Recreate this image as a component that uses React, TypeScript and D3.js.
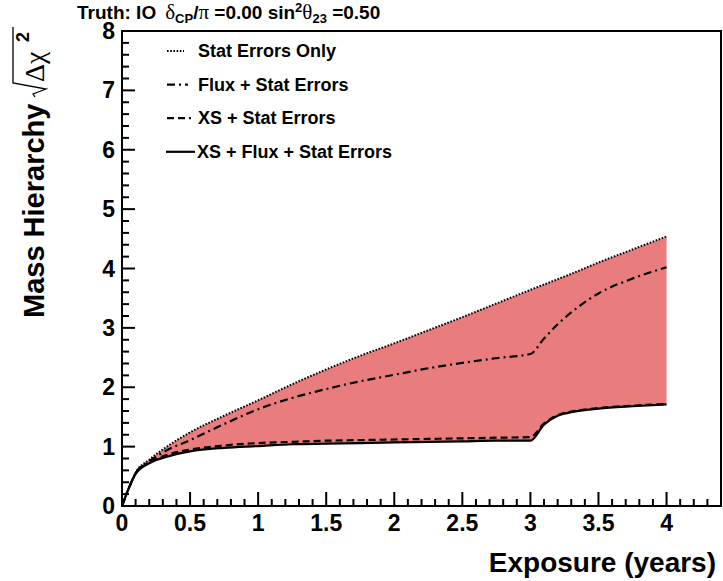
import React from "react";
import * as d3 from "d3";

const xs = [0, 0.05, 0.1, 0.2, 0.33, 0.5, 0.75, 1, 1.25, 1.5, 1.75, 2, 2.25, 2.5, 2.75, 3, 3.1, 3.2, 3.3, 3.5, 3.75, 4];
const statOnly = [0, 0.3, 0.56, 0.78, 1.0, 1.24, 1.52, 1.78, 2.05, 2.3, 2.53, 2.74, 2.96, 3.18, 3.41, 3.64, 3.73, 3.82, 3.91, 4.1, 4.32, 4.54];
const fluxStat = [0, 0.3, 0.55, 0.75, 0.94, 1.11, 1.38, 1.63, 1.82, 1.97, 2.1, 2.21, 2.32, 2.41, 2.49, 2.56, 2.82, 3.06, 3.26, 3.58, 3.83, 4.02];
const xsStat = [0, 0.3, 0.55, 0.73, 0.86, 0.95, 1.02, 1.06, 1.08, 1.1, 1.11, 1.12, 1.13, 1.14, 1.15, 1.16, 1.39, 1.53, 1.59, 1.65, 1.69, 1.72];
const allErr = [0, 0.3, 0.54, 0.72, 0.83, 0.92, 0.98, 1.01, 1.04, 1.05, 1.06, 1.07, 1.08, 1.09, 1.1, 1.1, 1.37, 1.52, 1.58, 1.64, 1.68, 1.71];

const legendLabels = ["Stat Errors Only", "Flux + Stat Errors", "XS + Stat Errors", "XS + Flux + Stat Errors"];
const xTickLabels = ["0", "0.5", "1", "1.5", "2", "2.5", "3", "3.5", "4"];
const yTickLabels = ["0", "1", "2", "3", "4", "5", "6", "7", "8"];

const W = 723, H = 581;
const L = 122, R = 721, T = 31, B = 506;
const FONT = "'Liberation Sans', Arial, Helvetica, sans-serif";
const GREEK = "'Liberation Serif', 'DejaVu Serif', serif";

export default function App() {
  const x = d3.scaleLinear().domain([0, 4.4]).range([L, R]);
  const y = d3.scaleLinear().domain([0, 8]).range([B, T]);

  const pts = (arr: number[]) => xs.map((v, i) => [v, arr[i]] as [number, number]);
  const line = d3.line<[number, number]>().x(d => x(d[0])).y(d => y(d[1])).curve(d3.curveMonotoneX);
  const area = d3.area<number>()
    .x((_, i) => x(xs[i]))
    .y0((_, i) => y(allErr[i]))
    .y1((_, i) => y(statOnly[i]))
    .curve(d3.curveMonotoneX);

  const styles = [
    { arr: statOnly, dash: "1.6,1.6", w: 2 },
    { arr: fluxStat, dash: "8,4,2,4", w: 2.2 },
    { arr: xsStat, dash: "7,4", w: 2.2 },
    { arr: allErr, dash: "", w: 2.2 },
  ];

  const yMinor = d3.range(0, 8.0001, 0.2);
  const xMinor = d3.range(0, 4.4001, 0.1);

  return (
    <svg width={W} height={H} style={{ position: "absolute", left: 0, top: 0, background: "#fff" }}>
      <path d={area(xs.map((_, i) => i)) || ""} fill="#e97d7e" stroke="none" />
      {styles.map((s, i) => (
        <path key={i} d={line(pts(s.arr)) || ""} fill="none" stroke="#000" strokeWidth={s.w}
          strokeDasharray={s.dash || undefined} />
      ))}
      {/* frame */}
      <rect x={L} y={T} width={R - L} height={B - T} fill="none" stroke="#000" strokeWidth={2} />
      {/* y ticks */}
      {yMinor.map((v, i) => {
        const major = Math.abs(v - Math.round(v)) < 1e-6;
        return <line key={"ym" + i} x1={L} x2={L + (major ? 13 : 7)} y1={y(v)} y2={y(v)} stroke="#000" strokeWidth={2} />;
      })}
      {/* x ticks */}
      {xMinor.map((v, i) => {
        const major = Math.abs(v * 2 - Math.round(v * 2)) < 1e-6;
        return <line key={"xm" + i} x1={x(v)} x2={x(v)} y1={B} y2={B - (major ? 14 : 7)} stroke="#000" strokeWidth={2} />;
      })}
      {yTickLabels.map((t, i) => (
        <text key={"yl" + i} x={L - 7} y={y(+t) + 8} textAnchor="end" fontFamily={FONT} fontWeight="bold" fontSize={23}>{t}</text>
      ))}
      {xTickLabels.map((t, i) => (
        <text key={"xl" + i} x={x(+t)} y={531} textAnchor="middle" fontFamily={FONT} fontWeight="bold" fontSize={23}>{t}</text>
      ))}
      {/* x title */}
      <text x={716} y={572} textAnchor="end" fontFamily={FONT} fontWeight="bold" fontSize={28}>Exposure (years)</text>
      {/* y title */}
      <g transform="translate(44,318) rotate(-90)">
        <text x={0} y={0} fontFamily={FONT} fontWeight="bold" fontSize={29}>Mass Hierarchy</text>
        <path d="M221,-9 L224,-11 L229,2 L235,-31 L291,-31" fill="none" stroke="#000" strokeWidth={1.3} />
        <text x={236} y={0} fontFamily={GREEK} fontSize={28}>Δχ</text>
        <text x={276} y={-15} fontFamily={FONT} fontWeight="bold" fontSize={18}>2</text>
      </g>
      {/* title */}
      <text x={77} y={19} fontFamily={FONT} fontWeight="bold" fontSize={19}>
        Truth: IO
        <tspan fontFamily={GREEK} fontWeight="normal" fontSize={21} dx={9}>δ</tspan>
        <tspan fontSize={13} dy={4}>CP</tspan>
        <tspan dy={-4}>/</tspan>
        <tspan fontFamily={GREEK} fontWeight="normal" fontSize={21}>π</tspan>
        <tspan> =0.00 sin</tspan>
        <tspan fontSize={13} dy={-7}>2</tspan>
        <tspan fontFamily={GREEK} fontWeight="normal" fontSize={21} dy={7}>θ</tspan>
        <tspan fontSize={13} dy={4}>23</tspan>
        <tspan dy={-4}> =0.50</tspan>
      </text>
      {/* legend */}
      {legendLabels.map((lab, i) => {
        const by = 57 + i * 33.6;
        const s = styles[i];
        const x1 = i === 3 ? 166 : 167;
        const x2 = i === 0 ? 184 : i === 1 ? 188 : i === 2 ? 191 : 195;
        return (
          <g key={"lg" + i}>
            <line x1={x1} x2={x2} y1={by - 6} y2={by - 6} stroke="#000" strokeWidth={s.w} strokeDasharray={s.dash || undefined} />
            <text x={i === 3 ? 197 : 198} y={by} fontFamily={FONT} fontWeight="bold" fontSize={18}>{lab}</text>
          </g>
        );
      })}
    </svg>
  );
}
